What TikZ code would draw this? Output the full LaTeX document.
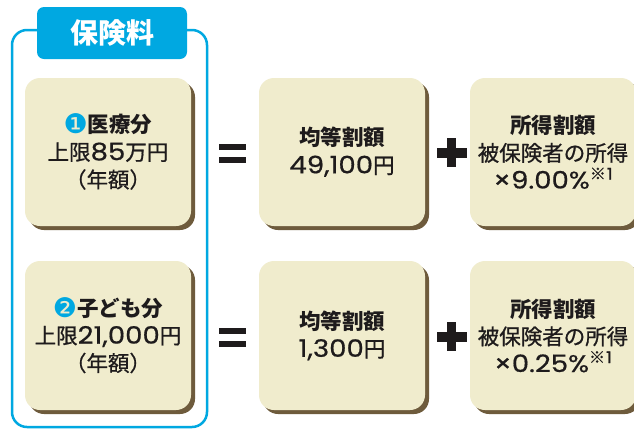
\documentclass[tikz,border=0pt]{standalone}
\usepackage{fontspec}
\setmainfont{Noto Sans CJK JP}
\newfontfamily\medf{Noto Sans CJK JP}[FakeBold=0.8]
\newfontfamily\dejavu{DejaVu Sans}
\newfontfamily\numf{Poppins}[FakeBold=0.6, FakeStretch=1.15]
\usetikzlibrary{shadows}
\definecolor{cyanA}{HTML}{00A8E1}
\definecolor{cream}{HTML}{F0ECCD}
\definecolor{brownS}{HTML}{6E5B3C}
\definecolor{ink}{HTML}{1E1B1C}
\newcommand{\numc}[1]{\smash{\raisebox{-0.06em}{\dejavu\color{cyanA}\fontsize{27}{27}\selectfont #1}}}
\newcommand{\nm}[1]{{\numf\fontsize{24}{28}\selectfont #1}}
\newcommand{\noteone}{\raisebox{0.42em}{\medf\fontsize{16}{16}\selectfont ※\kern1pt\numf 1}}
\begin{document}
\begin{tikzpicture}[x=1pt,y=-1pt,
  card/.style={fill=cream, rounded corners=15pt, inner sep=0pt, align=center,
    text=ink, font=\fontsize{21.5}{27.5}\selectfont,
    minimum width=166pt, minimum height=148pt,
    drop shadow={shadow xshift=4pt, shadow yshift=-4pt, fill=brownS, opacity=1}},
  frame/.style={draw=cyanA, line width=2.5pt, rounded corners=15pt},
  titlebox/.style={fill=cyanA, rounded corners=7pt, text=white, inner sep=0pt,
    minimum width=150pt, minimum height=52pt, font=\bfseries\fontsize{28}{30}\selectfont},
  op/.style={fill=ink}
]
\useasboundingbox (0,0) rectangle (634,429);
\fill[white] (0,0) rectangle (634,429);
% frame
\draw[frame] (12,30) rectangle (207,427);
\node[titlebox] (title) at (112,33) {保険料};
% row 1
\node[card] (box1) at (108,152) {\numc{❶}\textbf{医療分}\\{\medf 上限\nm{85}万円}\\{\medf（年額）}};
\node[card] (mid1) at (342,152) {\textbf{均等割額}\\{\medf\nm{49,100}円}};
\node[card] (right1) at (553,152) {\textbf{所得割額}\\{\medf 被保険者の所得}\\\nm{×9.00\%}\noteone};
% row 2
\node[card, minimum height=149pt] (box2) at (108,335.5) {\numc{❷}\textbf{子ども分}\\{\medf 上限\nm{21,000}円}\\{\medf（年額）}};
\node[card, minimum height=149pt] (mid2) at (342,335.5) {\textbf{均等割額}\\{\medf\nm{1,300}円}};
\node[card, minimum height=149pt] (right2) at (553,335.5) {\textbf{所得割額}\\{\medf 被保険者の所得}\\\nm{×0.25\%}\noteone};
% operators row 1
\fill[op] (219,144) rectangle (246,150);
\fill[op] (219,157) rectangle (246,163);
\fill[op] (437,148) rectangle (467,158);
\fill[op] (447,138) rectangle (456,167);
% operators row 2
\fill[op] (219,327.5) rectangle (246,333.5);
\fill[op] (219,340.5) rectangle (246,346.5);
\fill[op] (437,331.5) rectangle (467,341.5);
\fill[op] (447,321.5) rectangle (456,350.5);
\end{tikzpicture}
\end{document}
